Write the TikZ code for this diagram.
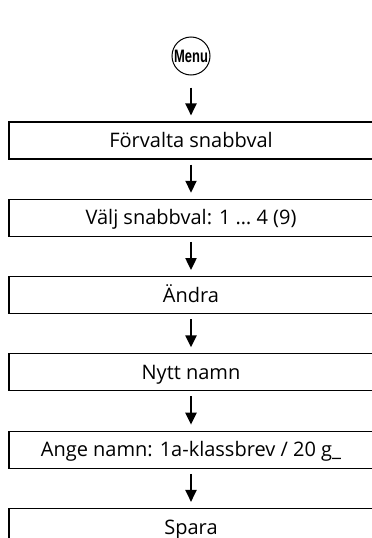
\documentclass[tikz,border=0pt]{standalone}
\usepackage{fontspec}
\setmainfont{Open Sans}
\newfontfamily\menufont[FakeStretch=0.72]{Liberation Sans}
\usetikzlibrary{positioning, arrows.meta}
\tikzset{
  stepbox/.style={draw, line width=1.1pt, minimum width=364pt, minimum height=37pt,
    inner sep=0pt, text height=14.3pt, text depth=0pt},
  flow/.style={line width=2.2pt, -{Triangle[width=11pt, length=12pt]}},
}
\begin{document}
\begin{tikzpicture}[x=1pt, y=1pt, font=\fontsize{20}{24}\selectfont, line join=miter]
  \useasboundingbox (0,0) rectangle (372,-538);
  \clip (0,0) rectangle (372,-538);
  \node[draw, circle, line width=1pt, minimum size=38pt, inner sep=0pt,
    font=\menufont\bfseries\fontsize{18}{20}\selectfont] (menu) at (191,-56) {Menu};
  \node[stepbox] (s1) at (191,-140.5) {Förvalta snabbval};
  \node[stepbox, below=39.2pt of s1] (s2) {Välj snabbval: 1 … 4 (9)};
  \node[stepbox, below=39.2pt of s2] (s3) {Ändra};
  \node[stepbox, below=39.2pt of s3] (s4) {Nytt namn};
  \node[stepbox, below=39.2pt of s4] (s5) {Ange namn: 1a-klassbrev / 20 g\_};
  \node[stepbox, below=39.2pt of s5] (s6) {Spara};
  % arrows
  \draw[flow] ([yshift=-12pt]menu.south) -- ([yshift=6pt]s1.north);
  \foreach \a/\b in {s1/s2, s2/s3, s3/s4, s4/s5, s5/s6}
    \draw[flow] ([yshift=-5pt]\a.south) -- ([yshift=6pt]\b.north);
\end{tikzpicture}
\end{document}
